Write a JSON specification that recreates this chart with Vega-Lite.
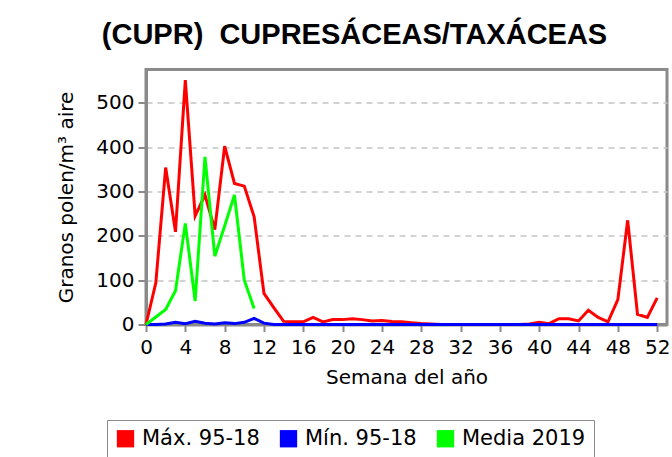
{
  "$schema": "https://vega.github.io/schema/vega-lite/v6.json",
  "width": 521,
  "height": 255,
  "autosize": {"type": "none"},
  "padding": {"left": 146, "top": 69.5, "right": 5, "bottom": 132.5},
  "background": "white",
  "title": {
    "text": "(CUPR)\u00a0 CUPRESÁCEAS/TAXÁCEAS",
    "font": "Liberation Sans",
    "fontSize": 29,
    "fontWeight": "bold",
    "color": "black",
    "anchor": "middle",
    "dx": -52,
    "offset": 20
  },
  "config": {
    "view": {"stroke": "#8a8a8a", "strokeWidth": 3},
    "axis": {
      "labelFont": "DejaVu Sans",
      "labelFontSize": 20,
      "labelColor": "black",
      "titleFont": "DejaVu Sans",
      "titleFontSize": 20,
      "titleFontWeight": "normal",
      "titleColor": "black",
      "domainColor": "#8a8a8a",
      "domainWidth": 3,
      "tickColor": "#8a8a8a",
      "tickWidth": 2
    }
  },
  "datasets": {
    "maxv": [
      {"week": 0, "value": 0}, {"week": 1, "value": 94}, {"week": 2, "value": 354}, {"week": 3, "value": 209},
      {"week": 4, "value": 551}, {"week": 5, "value": 245}, {"week": 6, "value": 292}, {"week": 7, "value": 214},
      {"week": 8, "value": 402}, {"week": 9, "value": 318}, {"week": 10, "value": 312}, {"week": 11, "value": 243},
      {"week": 12, "value": 70}, {"week": 13, "value": 38}, {"week": 14, "value": 7}, {"week": 15, "value": 6},
      {"week": 16, "value": 6}, {"week": 17, "value": 16}, {"week": 18, "value": 6}, {"week": 19, "value": 11},
      {"week": 20, "value": 11}, {"week": 21, "value": 13}, {"week": 22, "value": 11}, {"week": 23, "value": 8},
      {"week": 24, "value": 9}, {"week": 25, "value": 7}, {"week": 26, "value": 6}, {"week": 27, "value": 4},
      {"week": 28, "value": 2}, {"week": 29, "value": 1}, {"week": 30, "value": 0}, {"week": 31, "value": 0},
      {"week": 32, "value": 0}, {"week": 33, "value": 0}, {"week": 34, "value": 0}, {"week": 35, "value": 0},
      {"week": 36, "value": 0}, {"week": 37, "value": 0}, {"week": 38, "value": 0}, {"week": 39, "value": 1},
      {"week": 40, "value": 5}, {"week": 41, "value": 2}, {"week": 42, "value": 13}, {"week": 43, "value": 13},
      {"week": 44, "value": 8}, {"week": 45, "value": 32}, {"week": 46, "value": 16}, {"week": 47, "value": 6},
      {"week": 48, "value": 56}, {"week": 49, "value": 235}, {"week": 50, "value": 23}, {"week": 51, "value": 16},
      {"week": 52, "value": 60}
    ],
    "minv": [
      {"week": 0, "value": 0}, {"week": 1, "value": 0}, {"week": 2, "value": 1}, {"week": 3, "value": 5},
      {"week": 4, "value": 2}, {"week": 5, "value": 7}, {"week": 6, "value": 3}, {"week": 7, "value": 1},
      {"week": 8, "value": 4}, {"week": 9, "value": 2}, {"week": 10, "value": 5}, {"week": 11, "value": 14},
      {"week": 12, "value": 3}, {"week": 13, "value": 0}, {"week": 14, "value": 0}, {"week": 15, "value": 0},
      {"week": 16, "value": 0}, {"week": 17, "value": 0}, {"week": 18, "value": 0}, {"week": 19, "value": 0},
      {"week": 20, "value": 0}, {"week": 21, "value": 0}, {"week": 22, "value": 0}, {"week": 23, "value": 0},
      {"week": 24, "value": 0}, {"week": 25, "value": 0}, {"week": 26, "value": 0}, {"week": 27, "value": 0},
      {"week": 28, "value": 0}, {"week": 29, "value": 0}, {"week": 30, "value": 0}, {"week": 31, "value": 0},
      {"week": 32, "value": 0}, {"week": 33, "value": 0}, {"week": 34, "value": 0}, {"week": 35, "value": 0},
      {"week": 36, "value": 0}, {"week": 37, "value": 0}, {"week": 38, "value": 0}, {"week": 39, "value": 0},
      {"week": 40, "value": 0}, {"week": 41, "value": 0}, {"week": 42, "value": 0}, {"week": 43, "value": 0},
      {"week": 44, "value": 0}, {"week": 45, "value": 0}, {"week": 46, "value": 0}, {"week": 47, "value": 0},
      {"week": 48, "value": 0}, {"week": 49, "value": 0}, {"week": 50, "value": 0}, {"week": 51, "value": 0},
      {"week": 52, "value": 0}
    ],
    "media": [
      {"week": 0, "value": 0}, {"week": 1, "value": 17}, {"week": 2, "value": 34}, {"week": 3, "value": 76},
      {"week": 4, "value": 228}, {"week": 5, "value": 53}, {"week": 6, "value": 378}, {"week": 7, "value": 154},
      {"week": 8, "value": 222}, {"week": 9, "value": 292}, {"week": 10, "value": 100}, {"week": 11, "value": 36}
    ]
  },
  "layer": [
    {
      "data": {"name": "maxv"},
      "transform": [{"calculate": "'Máx. 95-18'", "as": "serie"}],
      "mark": {"type": "line", "strokeWidth": 3},
      "encoding": {
        "x": {"field": "week", "type": "quantitative"},
        "y": {"field": "value", "type": "quantitative"},
        "color": {"field": "serie", "type": "nominal"}
      }
    },
    {
      "data": {"name": "minv"},
      "transform": [{"calculate": "'Mín. 95-18'", "as": "serie"}],
      "mark": {"type": "line", "strokeWidth": 3},
      "encoding": {
        "x": {"field": "week", "type": "quantitative"},
        "y": {"field": "value", "type": "quantitative"},
        "color": {"field": "serie", "type": "nominal"}
      }
    },
    {
      "data": {"name": "media"},
      "transform": [{"calculate": "'Media 2019'", "as": "serie"}],
      "mark": {"type": "line", "strokeWidth": 3},
      "encoding": {
        "x": {
          "field": "week", "type": "quantitative",
          "scale": {"domain": [0, 53], "nice": false, "zero": true},
          "axis": {
            "values": [0, 4, 8, 12, 16, 20, 24, 28, 32, 36, 40, 44, 48, 52],
            "title": "Semana del año",
            "grid": false,
            "tickSize": 7,
            "labelFlush": false,
            "labelPadding": 6,
            "titlePadding": 10
          }
        },
        "y": {
          "field": "value", "type": "quantitative",
          "scale": {"domain": [0, 575], "nice": false},
          "axis": {
            "values": [0, 100, 200, 300, 400, 500],
            "title": "Granos polen/m³ aire",
            "grid": true,
            "gridColor": "#c4c4c4",
            "gridDash": [6, 5],
            "gridWidth": 1.5,
            "tickSize": 8,
            "labelFlush": false,
            "labelPadding": 4,
            "titlePadding": 19
          }
        },
        "color": {
          "field": "serie", "type": "nominal",
          "scale": {
            "domain": ["Máx. 95-18", "Mín. 95-18", "Media 2019"],
            "range": ["#ff0000", "#0000ff", "#00ff00"]
          },
          "legend": {
            "title": null,
            "orient": "none",
            "legendX": -39,
            "legendY": 350.5,
            "direction": "horizontal",
            "symbolType": "square",
            "symbolSize": 300,
            "symbolStrokeWidth": 0,
            "labelFont": "DejaVu Sans",
            "labelFontSize": 21,
            "labelColor": "black",
            "labelOffset": 6,
            "columnPadding": 18,
            "padding": 8,
            "strokeColor": "#8a8a8a",
            "fillColor": "white",
            "encode": {
              "symbols": {
                "update": {
                  "fill": {"scale": "color", "field": "value"},
                  "stroke": {"value": "transparent"}
                }
              }
            }
          }
        }
      }
    }
  ]
}
